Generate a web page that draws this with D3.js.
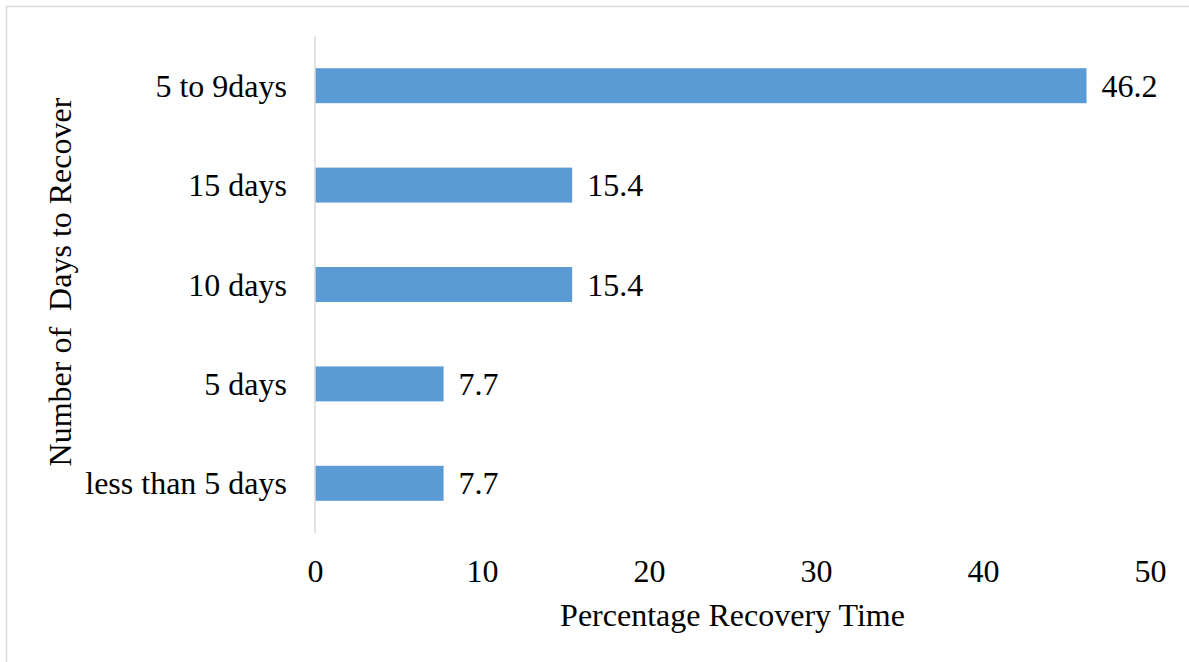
<!DOCTYPE html>
<html>
<head>
<meta charset="utf-8">
<script src="https://cdn.jsdelivr.net/npm/d3@7"></script>
<style>
  html, body { margin: 0; padding: 0; background: #fff; }
  svg { display: block; }
  text { font-family: "Liberation Serif", "Times New Roman", serif; fill: #000; }
</style>
</head>
<body>
<svg id="chart" width="1189" height="662"></svg>
<script>
// Recovery time categories, listed top to bottom
const categories = ["5 to 9days", "15 days", "10 days", "5 days", "less than 5 days"];
// Percentage of respondents per category
const percentages = [46.2, 15.4, 15.4, 7.7, 7.7];
// Horizontal axis ticks
const xTicks = [0, 10, 20, 30, 40, 50];

const W = 1189, H = 662;
const margin = { left: 315, right: 39, top: 36, bottom: 129 };
const fontSize = 32;

const svg = d3.select("#chart");

// Outer frame of the chart area
svg.append("rect")
  .attr("x", 6.5).attr("y", 6.5)
  .attr("width", W + 20).attr("height", H + 20)
  .attr("fill", "#fff")
  .attr("stroke", "#d9d9d9")
  .attr("stroke-width", 1.5);

const x = d3.scaleLinear()
  .domain([0, 50])
  .range([margin.left, W - margin.right]);

const y = d3.scaleBand()
  .domain(categories)
  .range([margin.top, H - margin.bottom])
  .paddingInner(0.648)
  .paddingOuter(0.324);

const data = categories.map((c, i) => ({ cat: c, val: percentages[i] }));

// Bars
svg.append("g").selectAll("rect")
  .data(data)
  .join("rect")
  .attr("x", x(0))
  .attr("y", d => y(d.cat))
  .attr("width", d => x(d.val) - x(0))
  .attr("height", y.bandwidth())
  .attr("fill", "#5b9bd5");

// Vertical category axis line
svg.append("line")
  .attr("x1", x(0)).attr("x2", x(0))
  .attr("y1", margin.top).attr("y2", H - margin.bottom)
  .attr("stroke", "#d9d9d9")
  .attr("stroke-width", 1.5);

// Category labels
svg.append("g").selectAll("text")
  .data(categories)
  .join("text")
  .attr("x", x(0) - 28)
  .attr("y", d => y(d) + y.bandwidth() / 2 + 11)
  .attr("text-anchor", "end")
  .attr("font-size", fontSize)
  .text(d => d);

// Value labels
svg.append("g").selectAll("text")
  .data(data)
  .join("text")
  .attr("x", d => x(d.val) + 15)
  .attr("y", d => y(d.cat) + y.bandwidth() / 2 + 11)
  .attr("font-size", fontSize)
  .text(d => d.val.toFixed(1));

// Horizontal value axis (labels only)
const xAxis = svg.append("g")
  .attr("transform", `translate(0,${H - margin.bottom})`)
  .call(d3.axisBottom(x).tickValues(xTicks).tickSize(0).tickPadding(0).tickFormat(d3.format("d")));
xAxis.select(".domain").remove();
xAxis.selectAll("text")
  .attr("font-size", fontSize)
  .attr("font-family", "Liberation Serif, Times New Roman, serif")
  .attr("dy", null)
  .attr("y", 49);

// Axis titles
svg.append("text")
  .attr("x", (x(0) + x(50)) / 2)
  .attr("y", 626)
  .attr("text-anchor", "middle")
  .attr("font-size", fontSize)
  .text("Percentage Recovery Time");

svg.append("text")
  .attr("transform", "translate(71,282) rotate(-90)")
  .attr("text-anchor", "middle")
  .attr("font-size", fontSize)
  .style("white-space", "pre")
  .text("Number of  Days to Recover");
</script>
</body>
</html>
